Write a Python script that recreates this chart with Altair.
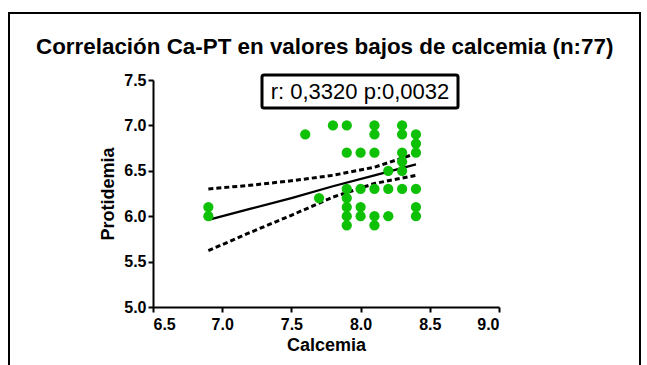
import altair as alt
import pandas as pd

# Calcium (mg/dL) vs total protein (g/dL), low-calcaemia subgroup
calcemia = [6.9, 6.9,
            7.6, 7.7, 7.8,
            7.9, 7.9, 7.9, 7.9, 7.9, 7.9, 7.9,
            8.0, 8.0, 8.0, 8.0,
            8.1, 8.1, 8.1, 8.1, 8.1, 8.1,
            8.2, 8.2, 8.2,
            8.3, 8.3, 8.3, 8.3, 8.3, 8.3,
            8.4, 8.4, 8.4, 8.4, 8.4, 8.4]
protidemia = [6.1, 6.0,
              6.9, 6.2, 7.0,
              7.0, 6.7, 6.3, 6.2, 6.1, 6.0, 5.9,
              6.7, 6.3, 6.1, 6.0,
              7.0, 6.9, 6.7, 6.3, 6.0, 5.9,
              6.5, 6.3, 6.0,
              7.0, 6.9, 6.7, 6.6, 6.5, 6.3,
              6.9, 6.8, 6.7, 6.3, 6.1, 6.0]

# Linear fit and its 95% confidence band
fit_x = [6.9, 7.2, 7.5, 7.8, 8.1, 8.4]
fit_y = [5.96, 6.08, 6.20, 6.33, 6.45, 6.57]
band_upper = [6.30, 6.34, 6.39, 6.45, 6.54, 6.69]
band_lower = [5.62, 5.82, 6.01, 6.21, 6.36, 6.45]

title_text = "Correlación Ca-PT en valores bajos de calcemia (n:77)"
stats_text = "r: 0,3320 p:0,0032"

FONT = "Liberation Sans"
W, H = 346, 227

points = pd.DataFrame({"Calcemia": calcemia, "Protidemia": protidemia})
fit = pd.DataFrame({"x": fit_x, "fit": fit_y, "upper": band_upper, "lower": band_lower})

xscale = alt.Scale(domain=[6.5, 9.0], nice=False, zero=False)
yscale = alt.Scale(domain=[5.0, 7.5], nice=False, zero=False)

xaxis = alt.Axis(values=[6.5, 7.0, 7.5, 8.0, 8.5, 9.0], format=".1f", title="Calcemia",
                 labelPadding=4, titlePadding=4)
yaxis = alt.Axis(values=[5.0, 5.5, 6.0, 6.5, 7.0, 7.5], format=".1f", title="Protidemia",
                 labelPadding=2, titlePadding=6)

scatter = alt.Chart(points).mark_point(
    filled=True, shape="circle", size=105, color="#0EC006", opacity=1
).encode(
    x=alt.X("Calcemia:Q", scale=xscale, axis=xaxis),
    y=alt.Y("Protidemia:Q", scale=yscale, axis=yaxis),
)

fit_line = alt.Chart(fit).mark_line(color="black", strokeWidth=2.3).encode(
    x=alt.X("x:Q", scale=xscale), y=alt.Y("fit:Q", scale=yscale)
)
upper_line = alt.Chart(fit).mark_line(color="black", strokeWidth=3, strokeDash=[5, 3]).encode(
    x=alt.X("x:Q", scale=xscale), y=alt.Y("upper:Q", scale=yscale)
)
lower_line = alt.Chart(fit).mark_line(color="black", strokeWidth=3, strokeDash=[5, 3]).encode(
    x=alt.X("x:Q", scale=xscale), y=alt.Y("lower:Q", scale=yscale)
)

one = pd.DataFrame({"t": [title_text], "s": [stats_text]})

# statistics box
stats_box = alt.Chart(one).mark_rect(
    fill="white", stroke="black", strokeWidth=3, cornerRadius=2
).encode(x=alt.value(109), x2=alt.value(305), y=alt.value(-5), y2=alt.value(28))
stats_label = alt.Chart(one).mark_text(
    font=FONT, fontSize=22, color="black", align="center", baseline="middle"
).encode(x=alt.value(207), y=alt.value(12), text="s:N")

title = alt.Chart(one).mark_text(
    font=FONT, fontSize=22.4, fontWeight="bold", color="black", align="left", baseline="alphabetic"
).encode(x=alt.value(-117), y=alt.value(-26), text="t:N")

# outer frame around the figure
frame = alt.Chart(one).mark_rect(
    fillOpacity=0, stroke="black", strokeWidth=2
).encode(x=alt.value(-144), x2=alt.value(487), y=alt.value(-67), y2=alt.value(330))

chart = alt.layer(
    frame, title, fit_line, upper_line, lower_line, scatter, stats_box, stats_label
).properties(
    width=W, height=H,
    padding={"left": 153, "top": 80, "right": 148, "bottom": 58},
    autosize=alt.AutoSizeParams(type="none"),
    background="white",
).configure_view(
    stroke=None
).configure_axis(
    grid=False,
    domainColor="black", domainWidth=2,
    tickColor="black", tickWidth=2, tickSize=5,
    labelFont=FONT, labelFontSize=16, labelFontWeight="bold", labelColor="black",
    titleFont=FONT, titleFontSize=18, titleFontWeight="bold", titleColor="black",
)

chart.save("out.html", embed_options={"renderer": "svg", "actions": False})
